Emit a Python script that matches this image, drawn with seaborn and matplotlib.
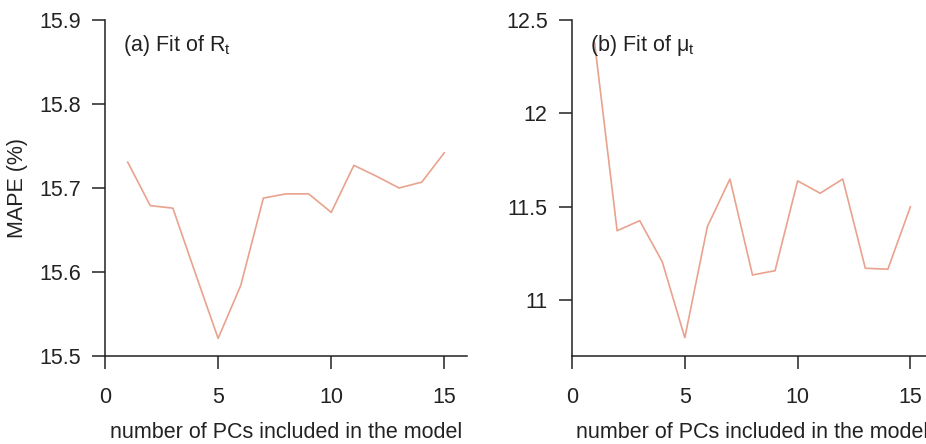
import matplotlib
matplotlib.use("Agg")
import matplotlib.pyplot as plt
import seaborn as sns
import pandas as pd

n_pcs = list(range(1, 16))
mape_R = [15.731, 15.679, 15.676, 15.598, 15.521, 15.584, 15.688, 15.693,
          15.693, 15.671, 15.727, 15.714, 15.700, 15.707, 15.742]
mape_mu = [12.38, 11.371, 11.425, 11.205, 10.798, 11.393, 11.648, 11.134,
           11.157, 11.638, 11.572, 11.648, 11.170, 11.165, 11.50]
yticks_R = [15.5, 15.6, 15.7, 15.8, 15.9]
yticks_mu = [11, 11.5, 12, 12.5]
ytick_labels_mu = ["11", "11.5", "12", "12.5"]
xticks = [0, 5, 10, 15]
titles = ["(a) Fit of R$_\\mathrm{t}$", "(b) Fit of \u03bc$_\\mathrm{t}$"]
xlabel = "number of PCs included in the model"
ylabel = "MAPE (%)"

sns.set_style("ticks")
plt.rcParams["font.family"] = ["Liberation Sans", "DejaVu Sans"]
plt.rcParams["mathtext.fontset"] = "custom"
plt.rcParams["mathtext.rm"] = "Liberation Sans"
plt.rcParams["mathtext.it"] = "Liberation Sans:italic"

line_color = "#E9A28E"
fs = 15.5

fig = plt.figure(figsize=(9.26, 4.44), dpi=100)
W, H = 926, 444
ax1 = fig.add_axes([105 / W, 1 - 356 / H, 362 / W, 336 / H])
ax2 = fig.add_axes([572 / W, 1 - 356 / H, 361 / W, 336 / H])

df1 = pd.DataFrame({"n": n_pcs, "mape": mape_R})
df2 = pd.DataFrame({"n": n_pcs, "mape": mape_mu})

sns.lineplot(data=df1, x="n", y="mape", ax=ax1, color=line_color, lw=1.2)
sns.lineplot(data=df2, x="n", y="mape", ax=ax2, color=line_color, lw=1.2)

ax1.set_ylim(15.5, 15.9)
ax1.set_yticks(yticks_R)
ax1.set_yticklabels([f"{v:.1f}" for v in yticks_R])
ax2.set_ylim(10.7, 12.5)
ax2.set_yticks(yticks_mu)
ax2.set_yticklabels(ytick_labels_mu)

for ax, title in zip([ax1, ax2], titles):
    ax.set_xlim(0, 16)
    ax.set_xticks(xticks)
    ax.set_xticklabels([str(v) for v in xticks])
    ax.spines["top"].set_visible(False)
    ax.spines["right"].set_visible(False)
    for s in ["left", "bottom"]:
        ax.spines[s].set_linewidth(1.1)
        ax.spines[s].set_color("#222222")
    ax.tick_params(axis="both", direction="out", length=9.5, width=1.1,
                   colors="#222222", labelsize=fs, labelcolor="#222222")
    ax.tick_params(axis="x", pad=13)
    ax.tick_params(axis="y", pad=8)
    ax.set_xlabel(xlabel, fontsize=fs, color="#222222", labelpad=10)
    ax.set_ylabel("")
    ax.text(0.05, 0.925, title, transform=ax.transAxes, fontsize=fs,
            color="#222222", va="center", ha="left")

ax1.set_ylabel(ylabel, fontsize=fs, color="#222222", labelpad=8)

fig.savefig("out.png", dpi=100)
